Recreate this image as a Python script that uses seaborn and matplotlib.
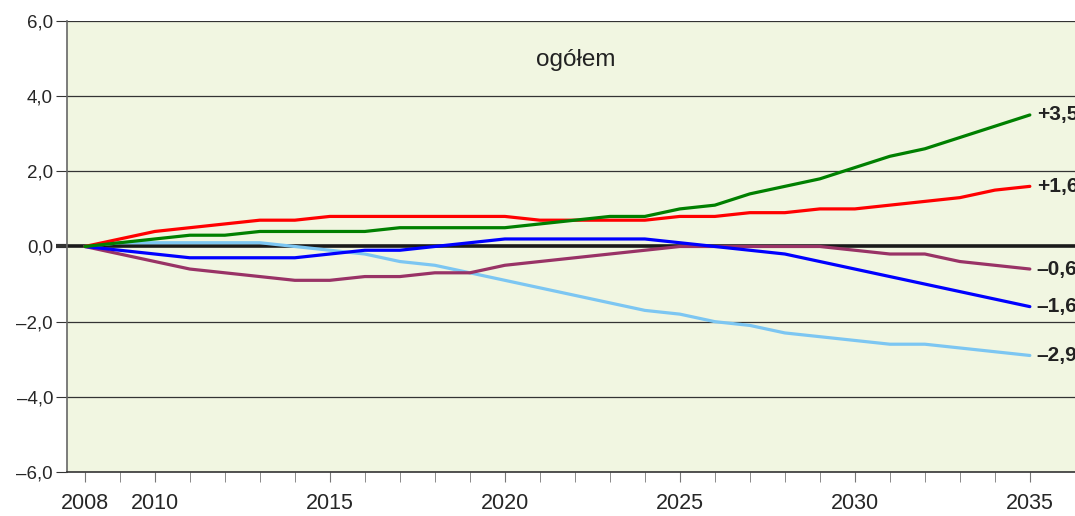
import numpy as np
import pandas as pd
import seaborn as sns
import matplotlib.pyplot as plt

years = list(range(2008, 2036))

green = [0.0, 0.1, 0.2, 0.3, 0.3, 0.4, 0.4, 0.4, 0.4, 0.5, 0.5, 0.5, 0.5, 0.6,
         0.7, 0.8, 0.8, 1.0, 1.1, 1.4, 1.6, 1.8, 2.1, 2.4, 2.6, 2.9, 3.2, 3.5]
red = [0.0, 0.2, 0.4, 0.5, 0.6, 0.7, 0.7, 0.8, 0.8, 0.8, 0.8, 0.8, 0.8, 0.7,
       0.7, 0.7, 0.7, 0.8, 0.8, 0.9, 0.9, 1.0, 1.0, 1.1, 1.2, 1.3, 1.5, 1.6]
purple = [0.0, -0.2, -0.4, -0.6, -0.7, -0.8, -0.9, -0.9, -0.8, -0.8, -0.7, -0.7, -0.5, -0.4,
          -0.3, -0.2, -0.1, 0.0, 0.0, 0.0, 0.0, 0.0, -0.1, -0.2, -0.2, -0.4, -0.5, -0.6]
blue = [0.0, -0.1, -0.2, -0.3, -0.3, -0.3, -0.3, -0.2, -0.1, -0.1, 0.0, 0.1, 0.2, 0.2,
        0.2, 0.2, 0.2, 0.1, 0.0, -0.1, -0.2, -0.4, -0.6, -0.8, -1.0, -1.2, -1.4, -1.6]
lightblue = [0.0, 0.1, 0.1, 0.1, 0.1, 0.1, 0.0, -0.1, -0.2, -0.4, -0.5, -0.7, -0.9, -1.1,
             -1.3, -1.5, -1.7, -1.8, -2.0, -2.1, -2.3, -2.4, -2.5, -2.6, -2.6, -2.7, -2.8, -2.9]

series_names = ['lightblue', 'purple', 'blue', 'red', 'green']
end_labels = {'green': '+3,5', 'red': '+1,6', 'purple': '\u20130,6',
              'blue': '\u20131,6', 'lightblue': '\u20132,9'}
yticks = [-6, -4, -2, 0, 2, 4, 6]
xtick_labels = [2008, 2010, 2015, 2020, 2025, 2030, 2035]

colors = {'green': '#008000', 'red': '#ff0000', 'purple': '#993366',
          'blue': '#0000ff', 'lightblue': '#7cc6f2'}

values = {'green': green, 'red': red, 'purple': purple, 'blue': blue, 'lightblue': lightblue}
df = pd.concat([pd.DataFrame({'year': years, 'value': values[n], 'series': n}) for n in series_names],
               ignore_index=True)

sns.set_style('ticks')
plt.rcParams['font.family'] = ['Liberation Sans', 'DejaVu Sans']

fig = plt.figure(figsize=(10.75, 5.16), dpi=100)
ax = fig.add_axes([0.0623, 0.0853, 0.9377, 0.874])
ax.set_facecolor('#f1f6e1')

# gridlines + thick zero line
for y in [-4, -2, 2, 4, 6]:
    ax.axhline(y, color='#333333', lw=0.9, zorder=1)
ax.axhline(0, color='#1a1a1a', lw=2.6, zorder=1.5)

sns.lineplot(data=df, x='year', y='value', hue='series', palette=colors,
             hue_order=series_names, lw=2.3, legend=False, ax=ax, zorder=3)

for n in series_names:
    ax.text(2035.2, values[n][-1], end_labels[n], fontsize=15, fontweight='bold',
            va='center', ha='left', color='#222222')

ax.text(2022.03, 4.97, 'ogółem', fontsize=17.5, ha='center', va='center', color='#222222')

ax.set_xlim(2007.49, 2036.29)
ax.set_ylim(-6, 6)
ax.set_yticks(yticks)
ax.set_yticklabels([f'{v:.1f}'.replace('.', ',').replace('-', '\u2013') for v in yticks], fontsize=13.5)
ax.set_xticks(years, minor=True)
ax.set_xticks(xtick_labels)
ax.set_xticklabels([str(v) for v in xtick_labels], fontsize=15.5)
ax.tick_params(axis='x', which='both', length=7, color='#777777', pad=8)
ax.tick_params(axis='y', length=8, color='#333333', pad=2)
ax.yaxis.get_major_ticks()[3].tick1line.set_markeredgewidth(3)
ax.yaxis.get_major_ticks()[3].tick1line.set_color('#1a1a1a')
ax.set_xlabel('')
ax.set_ylabel('')

for s in ['top', 'right']:
    ax.spines[s].set_visible(False)
ax.spines['left'].set_color('#666666')
ax.spines['left'].set_linewidth(1.2)
ax.spines['bottom'].set_color('#333333')
ax.spines['bottom'].set_linewidth(1.2)

fig.savefig('out.png', dpi=100)
